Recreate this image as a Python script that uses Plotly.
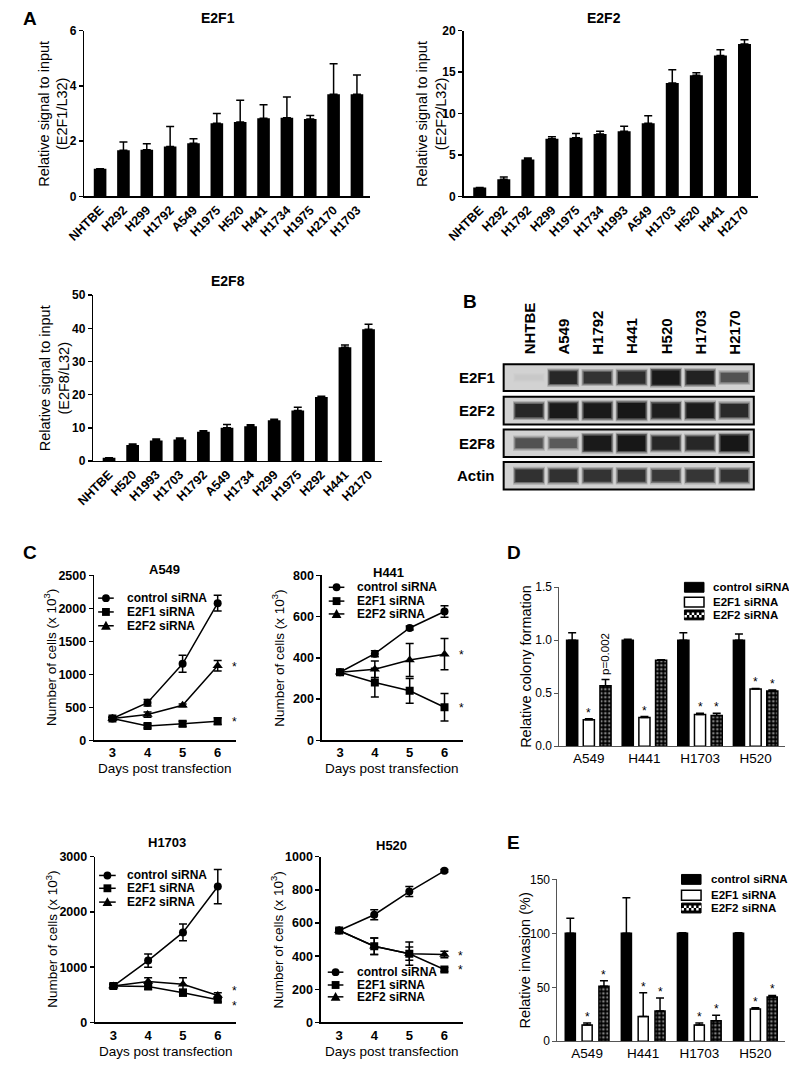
import plotly.graph_objects as go

W, H = 789, 1067
FONT = "Liberation Sans, Arial, Helvetica, sans-serif"

# ---------------- data ----------------
e2f1_lines = ["NHTBE", "H292", "H299", "H1792", "A549", "H1975", "H520", "H441", "H1734", "H1975", "H2170", "H1703"]
e2f1_vals = [1.0, 1.67, 1.69, 1.81, 1.93, 2.65, 2.70, 2.83, 2.85, 2.80, 3.70, 3.70]
e2f1_err = [0.0, 0.30, 0.22, 0.72, 0.16, 0.35, 0.78, 0.49, 0.75, 0.13, 1.10, 0.70]

e2f2_lines = ["NHTBE", "H292", "H1792", "H299", "H1975", "H1734", "H1993", "A549", "H1703", "H520", "H441", "H2170"]
e2f2_vals = [1.07, 2.07, 4.45, 6.96, 7.10, 7.55, 7.87, 8.83, 13.7, 14.63, 17.0, 18.4]
e2f2_err = [0.0, 0.28, 0.20, 0.24, 0.50, 0.32, 0.60, 0.90, 1.60, 0.30, 0.70, 0.50]

e2f8_lines = ["NHTBE", "H520", "H1993", "H1703", "H1792", "A549", "H1734", "H299", "H1975", "H292", "H441", "H2170"]
e2f8_vals = [1.0, 4.8, 6.2, 6.5, 8.8, 10.0, 10.5, 12.3, 15.2, 19.3, 34.3, 39.7]
e2f8_err = [0.0, 0.3, 0.4, 0.4, 0.3, 1.0, 0.4, 0.3, 1.0, 0.2, 0.7, 1.5]

blot_lanes = ["NHTBE", "A549", "H1792", "H441", "H520", "H1703", "H2170"]
blot_rows = ["E2F1", "E2F2", "E2F8", "Actin"]
band_e2f1 = [0.02, 0.80, 0.70, 0.75, 0.95, 0.85, 0.50]
band_e2f2 = [0.80, 0.95, 0.95, 1.00, 0.90, 0.92, 0.78]
band_e2f8 = [0.50, 0.45, 0.95, 1.00, 0.80, 0.80, 1.00]
band_actin = [0.72, 0.72, 0.70, 0.70, 0.66, 0.68, 0.70]

days = [3, 4, 5, 6]
siRNA_names = ["control siRNA", "E2F1 siRNA", "E2F2 siRNA"]
a549_ctrl = [330, 570, 1160, 2080]
a549_ctrl_err = [20, 50, 130, 120]
a549_e2f1 = [330, 215, 250, 290]
a549_e2f1_err = [20, 30, 40, 50]
a549_e2f2 = [330, 390, 530, 1130]
a549_e2f2_err = [20, 40, 20, 80]

h441_ctrl = [330, 420, 545, 625]
h441_ctrl_err = [10, 15, 10, 28]
h441_e2f1 = [330, 280, 240, 160]
h441_e2f1_err = [10, 70, 60, 67]
h441_e2f2 = [330, 345, 390, 418]
h441_e2f2_err = [10, 40, 80, 76]

h1703_ctrl = [660, 1120, 1630, 2460]
h1703_ctrl_err = [30, 120, 150, 310]
h1703_e2f1 = [660, 650, 540, 410]
h1703_e2f1_err = [30, 50, 60, 40]
h1703_e2f2 = [660, 740, 690, 490]
h1703_e2f2_err = [30, 70, 120, 50]

h520_ctrl = [555, 650, 790, 915]
h520_ctrl_err = [10, 30, 30, 8]
h520_e2f1 = [555, 460, 415, 320]
h520_e2f1_err = [10, 50, 40, 12]
h520_e2f2 = [555, 460, 415, 410]
h520_e2f2_err = [10, 50, 70, 20]

assay_lines = ["A549", "H441", "H1703", "H520"]
colony_ctrl = [1.0, 1.0, 1.0, 1.0]
colony_ctrl_err = [0.07, 0.01, 0.07, 0.06]
colony_e2f1 = [0.25, 0.27, 0.30, 0.54]
colony_e2f1_err = [0.01, 0.01, 0.01, 0.005]
colony_e2f2 = [0.57, 0.81, 0.29, 0.52]
colony_e2f2_err = [0.06, 0.005, 0.02, 0.01]

inv_ctrl = [100, 100, 100, 100]
inv_ctrl_err = [14, 33, 0.6, 0.6]
inv_e2f1 = [15, 23, 15, 30]
inv_e2f1_err = [2, 22, 2, 1]
inv_e2f2 = [51, 28, 19, 41]
inv_e2f2_err = [5, 12, 5, 1.5]


# ---------------- helpers ----------------
def px_x(p):
    return p / W


def px_y(p):
    return 1 - p / H


fig = go.Figure()
layout = dict(width=W, height=H, margin=dict(l=0, r=0, t=0, b=0),
              paper_bgcolor="white", plot_bgcolor="white",
              font=dict(family=FONT, color="black"), showlegend=False)
annotations = []
shapes = []


def akey(letter, n):
    return f"{letter}axis" if n == 1 else f"{letter}axis{n}"


def add_axes(n, xbox, ybox, xrange, yrange, xo=None, yo=None, lc="black", lw=1.5):
    xa = dict(domain=[px_x(xbox[0]), px_x(xbox[1])], range=xrange, anchor=f"y{n}",
              showline=True, linecolor=lc, linewidth=lw, ticks="", showgrid=False,
              zeroline=False, tickfont=dict(family=FONT, size=12, weight="bold"))
    ya = dict(domain=[px_y(ybox[1]), px_y(ybox[0])], range=yrange, anchor=f"x{n}",
              showline=True, linecolor=lc, linewidth=lw, ticks="outside", ticklen=4,
              tickwidth=lw, tickcolor=lc, showgrid=False, zeroline=False,
              tickfont=dict(family=FONT, size=12, weight="bold"))
    if xo:
        xa.update(xo)
    if yo:
        ya.update(yo)
    layout[akey("x", n)] = xa
    layout[akey("y", n)] = ya


def text(xp, yp, s, size=13, weight="normal", angle=0, xanchor="center", yanchor="middle"):
    annotations.append(dict(x=px_x(xp), y=px_y(yp), xref="paper", yref="paper", text=s,
                            showarrow=False, textangle=angle, xanchor=xanchor, yanchor=yanchor,
                            font=dict(family=FONT, size=size, weight=weight, color="#000000")))


def star(n, x, y, xshift=0, yshift=0, xanchor="center", yanchor="bottom"):
    annotations.append(dict(x=x, y=y, xref=f"x{n}", yref=f"y{n}", text="*", showarrow=False,
                            xshift=xshift, yshift=yshift, xanchor=xanchor, yanchor=yanchor,
                            font=dict(family=FONT, size=12, color="#000000")))


def err_up(e):
    return dict(type="data", array=e, arrayminus=[0] * len(e), symmetric=False,
                color="black", thickness=1.5, width=4)


def pshape(**kw):
    d = dict(xref="paper", yref="paper", layer="above")
    d.update(kw)
    shapes.append(d)


# ---------------- Panel A: bar charts ----------------
def bar_panel(n, names, vals, errs, xbox, ybox, ymax, dtick, title, title_xy, ytitle, ytitle_x):
    idx = list(range(len(names)))
    fig.add_trace(go.Bar(x=idx, y=vals, width=0.54, marker=dict(color="black", line=dict(width=0)),
                         error_y=err_up(errs), xaxis=f"x{n}", yaxis=f"y{n}", showlegend=False))
    add_axes(n, xbox, ybox, [-0.67, len(names) - 0.45], [0, ymax],
             xo=dict(tickmode="array", tickvals=idx, ticktext=names, tickangle=-45,
                     tickfont=dict(family=FONT, size=12.5, weight="bold")),
             yo=dict(dtick=dtick, tick0=0, tickfont=dict(family=FONT, size=12, weight="bold")))
    text(title_xy[0], title_xy[1], title, size=14, weight="bold")
    text(ytitle_x, (ybox[0] + ybox[1]) / 2, ytitle, size=14.5, angle=-90)


bar_panel(1, e2f1_lines, e2f1_vals, e2f1_err, (68, 360), (24, 192), 6, 2, "E2F1", (205, 11),
          "Relative signal to input<br>(E2F1/L32)", 36)
bar_panel(2, e2f2_lines, e2f2_vals, e2f2_err, (456, 757), (24, 192), 20, 5, "E2F2", (600, 11),
          "Relative signal to input<br>(E2F2/L32)", 423)
bar_panel(3, e2f8_lines, e2f8_vals, e2f8_err, (77, 372), (292, 460), 50, 10, "E2F8", (215, 278),
          "Relative signal to input<br>(E2F8/L32)", 37)

# ---------------- Panel B: western blot ----------------
row_boxes = [(362, 389), (395, 423), (428, 456), (461, 489)]
band_sets = [band_e2f1, band_e2f2, band_e2f8, band_actin]
lane_idx = list(range(len(blot_lanes)))
for k, (rname, bands, rb) in enumerate(zip(blot_rows, band_sets, row_boxes)):
    n = 4 + k
    for scale_t, wdt, alpha in ((0.36, 0.93, 0.28), (0.26, 0.88, 0.55), (0.16, 0.80, 0.95)):
        th = [scale_t + 0.40 * b for b in bands]
        fig.add_trace(go.Bar(x=lane_idx, y=th, base=[0.5 - t / 2 for t in th], width=wdt,
                             marker=dict(color=[f"rgba(20,20,20,{alpha * b:.2f})" for b in bands],
                                         line=dict(width=0)),
                             xaxis=f"x{n}", yaxis=f"y{n}", showlegend=False, hoverinfo="skip"))
    add_axes(n, (497, 753), rb, [-0.74, 6.57], [0, 1],
             xo=dict(visible=False), yo=dict(visible=False))
    shapes.append(dict(type="rect", xref=f"x{n} domain", yref=f"y{n} domain", x0=0, x1=1, y0=0, y1=1,
                       fillcolor="#d2d2d2", line=dict(width=0), layer="below"))
    shapes.append(dict(type="rect", xref=f"x{n} domain", yref=f"y{n} domain", x0=0, x1=1, y0=0, y1=1,
                       fillcolor="rgba(0,0,0,0)", line=dict(color="black", width=2), layer="above"))
    text(490, (rb[0] + rb[1]) / 2, rname, size=15, weight="bold", xanchor="right")
for i, lane in enumerate(blot_lanes):
    annotations.append(dict(x=i, y=px_y(354), xref="x4", yref="paper", text=lane, showarrow=False,
                            textangle=-90, xanchor="center", yanchor="bottom",
                            font=dict(family=FONT, size=15, weight="bold", color="#000000")))

# ---------------- Panel C: growth curves ----------------
markers = ["circle", "square", "triangle-up"]
msizes = [8, 8, 9]


def marker_shape(j, cx, cy):
    if j == 0:
        pshape(type="circle", x0=px_x(cx - 4), x1=px_x(cx + 4), y0=px_y(cy + 4), y1=px_y(cy - 4),
               fillcolor="black", line=dict(color="black", width=0))
    elif j == 1:
        pshape(type="rect", x0=px_x(cx - 4), x1=px_x(cx + 4), y0=px_y(cy + 4), y1=px_y(cy - 4),
               fillcolor="black", line=dict(color="black", width=0))
    else:
        path = (f"M{px_x(cx)},{px_y(cy - 5)} L{px_x(cx - 5)},{px_y(cy + 4)} "
                f"L{px_x(cx + 5)},{px_y(cy + 4)} Z")
        pshape(type="path", path=path, fillcolor="black", line=dict(color="black", width=0))


def line_legend(x0, x1, xt, rows):
    for j, yr in enumerate(rows):
        pshape(type="line", x0=px_x(x0), x1=px_x(x1), y0=px_y(yr), y1=px_y(yr),
               line=dict(color="black", width=1.5))
        marker_shape(j, (x0 + x1) / 2, yr)
        text(xt, yr, siRNA_names[j], size=12, weight="bold", xanchor="left")


def growth_panel(n, series, errs, xbox, ybox, ymax, dtick, title, title_xy, star_shifts):
    for j, (s, e) in enumerate(zip(series, errs)):
        fig.add_trace(go.Scatter(x=days, y=s, mode="lines+markers", name=siRNA_names[j],
                                 line=dict(color="black", width=1.5),
                                 marker=dict(symbol=markers[j], size=msizes[j], color="black"),
                                 error_y=dict(type="data", array=e, color="black", thickness=1.5, width=4),
                                 xaxis=f"x{n}", yaxis=f"y{n}", showlegend=False))
    add_axes(n, xbox, ybox, [2.48, 6.52], [0, ymax],
             xo=dict(tickmode="array", tickvals=days, ticktext=[str(d) for d in days],
                     tickfont=dict(family=FONT, size=13, weight="bold")),
             yo=dict(dtick=dtick, tick0=0, tickfont=dict(family=FONT, size=12.5, weight="bold")))
    text(title_xy[0], title_xy[1], title, size=13, weight="bold")
    text(xbox[0] - 45, (ybox[0] + ybox[1]) / 2, "Number of cells (x 10<sup>3</sup>)", size=13.5, angle=-90)
    text((xbox[0] + xbox[1]) / 2, ybox[1] + 29, "Days post transfection", size=13.5)
    for j, ys in star_shifts.items():
        star(n, days[-1], series[j][-1], xshift=12, yshift=ys, xanchor="left", yanchor="middle")


growth_panel(8, [a549_ctrl, a549_e2f1, a549_e2f2], [a549_ctrl_err, a549_e2f1_err, a549_e2f2_err],
             (78, 223), (576, 743), 2500, 500, "A549", (150, 570), {1: -1, 2: -1})
growth_panel(9, [h441_ctrl, h441_e2f1, h441_e2f2], [h441_ctrl_err, h441_e2f1_err, h441_e2f2_err],
             (311, 455), (576, 743), 800, 200, "H441", (379, 573), {1: -1, 2: -1})
growth_panel(10, [h1703_ctrl, h1703_e2f1, h1703_e2f2], [h1703_ctrl_err, h1703_e2f1_err, h1703_e2f2_err],
             (79, 223), (861, 1029), 3000, 1000, "H1703", (152, 847), {1: -6, 2: 4})
growth_panel(11, [h520_ctrl, h520_e2f1, h520_e2f2], [h520_ctrl_err, h520_e2f1_err, h520_e2f2_err],
             (310, 455), (861, 1029), 1000, 200, "H520", (382, 850), {1: -1, 2: -1})

line_legend(82, 98, 110, [599, 613, 627])
line_legend(318, 334, 345, [588, 602, 615])
line_legend(83, 100, 110, [880, 893, 907])
line_legend(317, 333, 345, [978, 991, 1003])

# ---------------- Panels D and E: grouped bars ----------------
bar_offsets = [-0.30, 0.0, 0.30]
checker = dict(shape=".", fgcolor="white", bgcolor="black", size=4, solidity=0.35)


def group_panel(n, series, errs, xbox, ybox, ymax, dtick, fmt, ytitle, ytitle_x, star_sets, bw):
    idx = list(range(len(assay_lines)))
    styles = [dict(color="black", line=dict(color="black", width=1.5)),
              dict(color="white", line=dict(color="black", width=1.5)),
              dict(color="black", line=dict(color="black", width=1.5), pattern=checker)]
    for j, (s, e) in enumerate(zip(series, errs)):
        fig.add_trace(go.Bar(x=idx, y=s, width=bw, offset=bar_offsets[j] - bw / 2,
                             marker=styles[j], name=siRNA_names[j], error_y=err_up(e),
                             xaxis=f"x{n}", yaxis=f"y{n}", showlegend=False))
    add_axes(n, xbox, ybox, [-0.53, 3.53], [0, ymax],
             xo=dict(tickmode="array", tickvals=idx, ticktext=assay_lines,
                     tickfont=dict(family=FONT, size=13.5, weight="normal")),
             yo=dict(dtick=dtick, tick0=0, tickformat=fmt,
                     tickfont=dict(family=FONT, size=12, weight="normal")),
             lc="#555555", lw=1)
    text(ytitle_x, (ybox[0] + ybox[1]) / 2, ytitle, size=14.5, angle=-90)
    for j in (1, 2):
        for g in star_sets[j]:
            star(n, g + bar_offsets[j], series[j][g] + errs[j][g], yshift=-3)


def bar_legend(x0, x1, xt, rows, size=12):
    for j, yr in enumerate(rows):
        y0, y1 = yr - 5, yr + 5
        if j == 0:
            pshape(type="rect", x0=px_x(x0), x1=px_x(x1), y0=px_y(y1), y1=px_y(y0),
                   fillcolor="black", line=dict(color="black", width=1))
        elif j == 1:
            pshape(type="rect", x0=px_x(x0), x1=px_x(x1), y0=px_y(y1), y1=px_y(y0),
                   fillcolor="white", line=dict(color="black", width=1.5))
        else:
            pshape(type="rect", x0=px_x(x0), x1=px_x(x1), y0=px_y(y1), y1=px_y(y0),
                   fillcolor="black", line=dict(color="black", width=1))
            s = 2.5
            parts = []
            for r in range(1, 3):
                for c in range(int((x1 - x0) / s)):
                    if (r + c) % 2 == 0:
                        xa, ya = x0 + c * s, y0 + r * s
                        parts.append(f"M{px_x(xa)},{px_y(ya)} H{px_x(xa + s)} V{px_y(ya + s)} H{px_x(xa)} Z")
            pshape(type="path", path=" ".join(parts), fillcolor="white", line=dict(width=0))
        text(xt, yr, siRNA_names[j], size=size, weight="bold", xanchor="left")


group_panel(12, [colony_ctrl, colony_e2f1, colony_e2f2], [colony_ctrl_err, colony_e2f1_err, colony_e2f2_err],
            (554, 785), (588, 749), 1.5, 0.5, ".1f", "Relative colony formation", 520,
            {1: [0, 1, 2, 3], 2: [2, 3]}, 0.2)
annotations.append(dict(x=bar_offsets[2], y=colony_e2f2[0] + colony_e2f2_err[0], xref="x12", yref="y12",
                        text="p=0.002", showarrow=False, textangle=-90, xanchor="center", yanchor="bottom",
                        yshift=2, font=dict(family=FONT, size=11.5, color="#000000")))
group_panel(13, [inv_ctrl, inv_e2f1, inv_e2f2], [inv_ctrl_err, inv_e2f1_err, inv_e2f2_err],
            (552, 785), (884, 1048), 150, 50, "d", "Relative invasion (%)", 519,
            {1: [0, 1, 2, 3], 2: [0, 1, 2, 3]}, 0.18)

bar_legend(682, 702, 709, [588, 603, 616], size=11.5)
bar_legend(679, 699, 707, [884, 900, 913], size=11.5)

# ---------------- panel letters ----------------
text(3, 12, "A", size=19, weight="bold", xanchor="left")
text(453, 298, "B", size=19, weight="bold", xanchor="left")
text(3, 553, "C", size=19, weight="bold", xanchor="left")
text(498, 553, "D", size=19, weight="bold", xanchor="left")
text(498, 847, "E", size=19, weight="bold", xanchor="left")

layout["annotations"] = annotations
layout["shapes"] = shapes
layout["barmode"] = "overlay"
fig.update_layout(**layout)
fig.write_html("out.html", config={"displayModeBar": False, "staticPlot": True},
               post_script="document.body.style.margin='0px';document.body.style.overflow='hidden';")
